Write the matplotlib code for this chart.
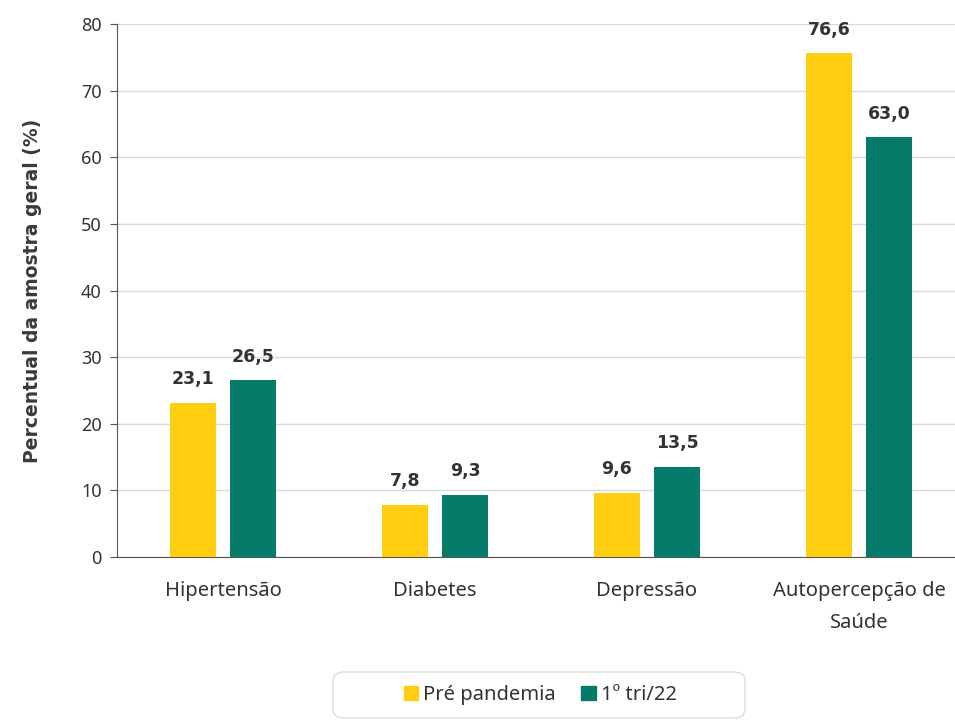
import matplotlib.pyplot as plt
import numpy as np
from matplotlib.patches import Patch, FancyBboxPatch

plt.rcParams['font.family'] = ['Noto Sans', 'DejaVu Sans']

# ------- DATA -------
categories = ['Hipertensão', 'Diabetes', 'Depressão', 'Autopercepção de\nSaúde']
pre_pandemia = [23.1, 7.8, 9.6, 75.6]
tri_22 = [26.5, 9.3, 13.5, 63.0]
pre_labels = ['23,1', '7,8', '9,6', '76,6']
tri_labels = ['26,5', '9,3', '13,5', '63,0']
series_names = ['Pré pandemia', '1º tri/22']

YELLOW = '#FFCE10'
TEAL = '#067B6A'
TXT = '#333333'
W, H = 955, 720

fig = plt.figure(figsize=(W/100, H/100), dpi=100)
ax = fig.add_axes([117/W, 1 - 557/H, (W - 117)/W, (557 - 24)/H])

x = np.arange(len(categories))
w = 0.217
off = 0.142
ax.bar(x - off, pre_pandemia, w, color=YELLOW, zorder=3)
ax.bar(x + off, tri_22, w, color=TEAL, zorder=3)

for xi, v, s in zip(x - off, pre_pandemia, pre_labels):
    ax.text(xi, v + 2.2, s, ha='center', va='bottom', fontsize=12.5, fontweight='bold',
            family='DejaVu Sans', color=TXT)
for xi, v, s in zip(x + off, tri_22, tri_labels):
    ax.text(xi, v + 2.2, s, ha='center', va='bottom', fontsize=12.5, fontweight='bold',
            family='DejaVu Sans', color=TXT)

ax.set_xlim(-0.5, -0.5 + 838/212)
ax.set_ylim(0, 80)
ax.set_yticks(range(0, 81, 10))
ax.set_xticks(x)
ax.set_xticklabels(categories, fontsize=14.5, color=TXT, linespacing=1.8)
ax.tick_params(axis='y', labelsize=13, colors=TXT, length=5, color='#555555', pad=6)
ax.tick_params(axis='x', length=0, pad=17)
ax.grid(axis='y', color='#D9D9D9', lw=1, zorder=0)
for s in ['top', 'right']:
    ax.spines[s].set_visible(False)
ax.spines['left'].set_color('#555555')
ax.spines['bottom'].set_color('#555555')
ax.set_ylabel('Percentual da amostra geral (%)', fontsize=13.5, fontweight='bold',
              family='DejaVu Sans', color='#3a3a3a', labelpad=28)

# legend box
box = FancyBboxPatch((333/W, 1 - 718/H), (745 - 333)/W, (718 - 672)/H,
                     boxstyle='round,pad=0,rounding_size=0.012', transform=fig.transFigure,
                     facecolor='white', edgecolor='#DDDDDD', lw=1)
fig.add_artist(box)
handles = [Patch(color=YELLOW), Patch(color=TEAL)]
leg = fig.legend(handles, series_names, loc='center', bbox_to_anchor=(540/W, 1 - 695/H),
                 ncol=2, fontsize=14.5, frameon=False, handlelength=0.7,
                 handleheight=0.7, handletextpad=0.25, columnspacing=1.3,
                 borderpad=0, borderaxespad=0)
for t in leg.get_texts():
    t.set_color(TXT)
fig.savefig('out.png', dpi=100)
